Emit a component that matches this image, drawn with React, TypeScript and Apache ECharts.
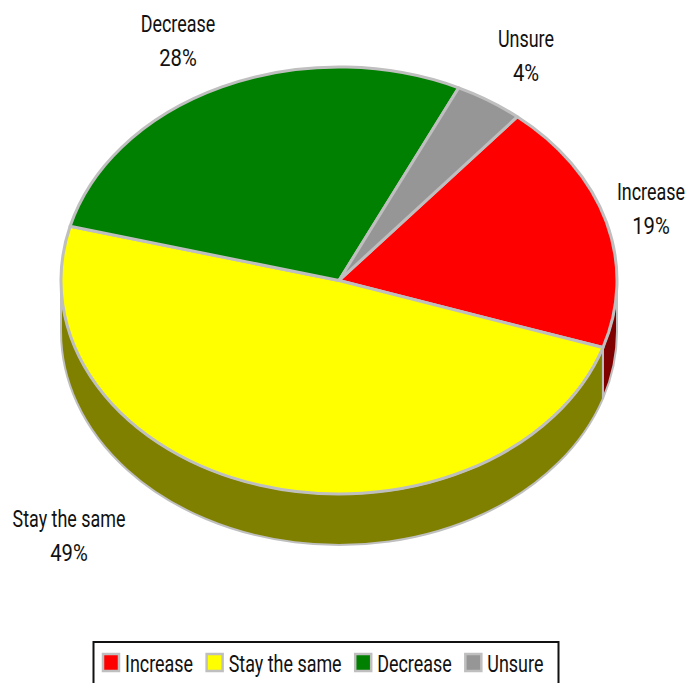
import React, { useEffect, useRef } from "react";
import * as echarts from "echarts";

const categories = ["Increase", "Stay the same", "Decrease", "Unsure"];
const values = [19, 49, 28, 4];
const topColors = ["#ff0000", "#ffff00", "#008000", "#969696"];
const sideColors = ["#800000", "#808000", "#004000", "#4b4b4b"];
const labelCenters = [
  [651, 209],
  [69, 536],
  [178, 41],
  [526, 56],
];

const CX = 339;
const CY = 280.5;
const RX = 278;
const RY = 213.5;
const DEPTH = 51;
const START = -50.1;
const FONT = "23px Roboto, sans-serif";
const SCALE_X = 0.78;
const SCALE_PCT = 0.88;
const total = values.reduce((a, b) => a + b, 0);

const pt = (deg: number, dy = 0) => {
  const r = (deg * Math.PI) / 180;
  return [CX + RX * Math.cos(r), CY + dy + RY * Math.sin(r)];
};
const f = (n: number) => n.toFixed(2);

function topPath(s: number, e: number) {
  const a = pt(s);
  const b = pt(e);
  const large = e - s > 180 ? 1 : 0;
  return `M${CX} ${CY}L${f(a[0])} ${f(a[1])}A${RX} ${RY} 0 ${large} 1 ${f(b[0])} ${f(b[1])}Z`;
}
function sidePath(s: number, e: number) {
  const a = pt(s);
  const b = pt(e);
  const c = pt(e, DEPTH);
  const d = pt(s, DEPTH);
  return `M${f(a[0])} ${f(a[1])}A${RX} ${RY} 0 0 1 ${f(b[0])} ${f(b[1])}L${f(c[0])} ${f(c[1])}A${RX} ${RY} 0 0 0 ${f(d[0])} ${f(d[1])}Z`;
}

function legendGraphic() {
  const ctx = document.createElement("canvas").getContext("2d")!;
  ctx.font = FONT;
  const elements: any[] = [
    {
      type: "rect",
      shape: { x: 93.5, y: 642, width: 465, height: 60 },
      style: { fill: "#ffffff", stroke: "#111111", lineWidth: 2 },
    },
  ];
  let x = 103;
  categories.forEach((name, i) => {
    elements.push({
      type: "rect",
      shape: { x, y: 654, width: 16, height: 17 },
      style: { fill: topColors[i], stroke: "#bfbfbf", lineWidth: 2.5 },
    });
    elements.push({
      type: "text",
      x: x + 22,
      y: 664,
      scaleX: SCALE_X,
      style: { text: name, font: FONT, fill: "#111111", align: "left", verticalAlign: "middle" },
    });
    x += 22 + ctx.measureText(name).width * SCALE_X + 13.5;
  });
  return elements;
}

export default function App() {
  const ref = useRef<HTMLDivElement>(null);
  useEffect(() => {
    const chart = echarts.init(ref.current!, null, { renderer: "svg" });
    let acc = 0;
    const series = categories.map((name, i) => {
      const s = START + (acc / total) * 360;
      const e = s + (values[i] / total) * 360;
      acc += values[i];
      return {
        type: "custom",
        name,
        coordinateSystem: "none",
        itemStyle: { color: topColors[i] },
        data: [[values[i]]],
        renderItem: () => {
          const children: any[] = [];
          const ws = Math.max(s, 0);
          const we = Math.min(e, 180);
          if (we > ws) {
            children.push({
              type: "path",
              shape: { pathData: sidePath(ws, we) },
              style: { fill: sideColors[i], stroke: "#bfbfbf", lineWidth: 2 },
            });
          }
          children.push({
            type: "path",
            shape: { pathData: topPath(s, e) },
            style: { fill: topColors[i], stroke: "#bfbfbf", lineWidth: 3, lineJoin: "round" },
          });
          children.push({
            type: "text",
            x: labelCenters[i][0],
            y: labelCenters[i][1] - 17,
            scaleX: SCALE_X,
            style: {
              text: name,
              align: "center",
              verticalAlign: "middle",
              fill: "#111111",
              font: FONT,
            },
          });
          children.push({
            type: "text",
            x: labelCenters[i][0],
            y: labelCenters[i][1] + 17,
            scaleX: SCALE_PCT,
            style: {
              text: `${values[i]}%`,
              align: "center",
              verticalAlign: "middle",
              fill: "#111111",
              font: FONT,
            },
          });
          return { type: "group", children };
        },
      };
    });
    chart.setOption({
      animation: false,
      series,
      graphic: { elements: legendGraphic() },
    });
    return () => chart.dispose();
  }, []);
  return (
    <div
      ref={ref}
      style={{ position: "fixed", left: 0, top: 0, width: 690, height: 683, background: "#fff" }}
    />
  );
}
